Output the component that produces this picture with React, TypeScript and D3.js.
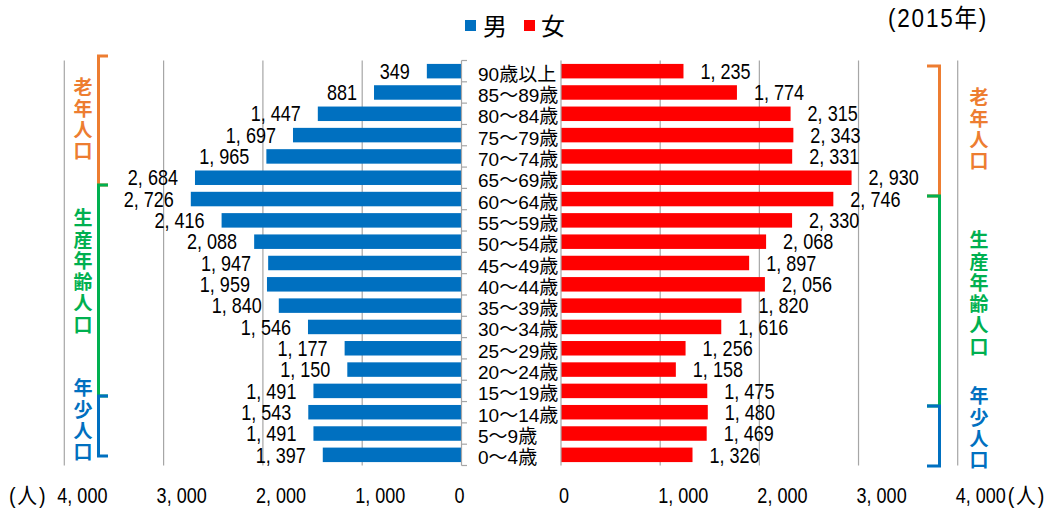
import React from "react";
import * as d3 from "d3";

// Age groups, top row first
const ageGroups = [
  "90歳以上", "85〜89歳", "80〜84歳", "75〜79歳", "70〜74歳", "65〜69歳",
  "60〜64歳", "55〜59歳", "50〜54歳", "45〜49歳", "40〜44歳", "35〜39歳",
  "30〜34歳", "25〜29歳", "20〜24歳", "15〜19歳", "10〜14歳", "5〜9歳", "0〜4歳",
];
const maleValues = [
  349, 881, 1447, 1697, 1965, 2684, 2726, 2416, 2088, 1947, 1959, 1840,
  1546, 1177, 1150, 1491, 1543, 1491, 1397,
];
const femaleValues = [
  1235, 1774, 2315, 2343, 2331, 2930, 2746, 2330, 2068, 1897, 2056, 1820,
  1616, 1256, 1158, 1475, 1480, 1469, 1326,
];
const axisTicks = [0, 1000, 2000, 3000, 4000];
const seriesNames = ["男", "女"];
const yearLabel = "(2015年)";
const unitLabel = "(人)";
const groupNames = ["老年人口", "生産年齢人口", "年少人口"];

const W = 1054;
const H = 508;
const MALE = "#0070C0";
const FEMALE = "#FF0000";
const GROUP_COLORS = ["#ED7D31", "#00B050", "#0070C0"];
const GRID = "#A6A6A6";

const LABEL_FONT = "'Liberation Sans', 'Noto Sans CJK JP', sans-serif";
const CJK_FONT = "'Noto Sans CJK JP', sans-serif";

const fmt = (v: number) => d3.format(",")(v).replace(",", ", ");

// Horizontally condensed text (tall, narrow numerals)
function NText(props: {
  x: number; y: number; anchor?: string; size: number; sx: number;
  spacing?: number; children: React.ReactNode;
}) {
  const { x, y, anchor = "start", size, sx, spacing = 0, children } = props;
  return (
    <text
      transform={`translate(${x},${y}) scale(${sx},1)`}
      textAnchor={anchor}
      fontFamily={LABEL_FONT}
      fontSize={size}
      letterSpacing={spacing}
      fill="#000"
    >
      {children}
    </text>
  );
}

export default function App() {
  const top = 60.5;
  const bottom = 465.5;
  const y = d3.scaleBand<string>().domain(ageGroups).range([top, bottom]).paddingInner(0.32).paddingOuter(0.16);
  const xL = d3.scaleLinear().domain([0, 4000]).range([461.5, 64.3]);
  const xR = d3.scaleLinear().domain([0, 4000]).range([561, 957.7]);
  const step = y.step();
  const bw = y.bandwidth();
  const cy = (a: string) => (y(a) as number) + bw / 2;
  const NUM_SX = 0.82;

  // bracket annotations: [yTop, yBottom] per group
  const leftBrackets = [[56, 185], [185, 396], [396, 456]];
  const rightBrackets = [[66, 196], [196, 406], [406, 466]];
  const leftTextStart = [87, 218, 388];
  const rightTextStart = [97, 240, 396];
  const charSize = 19;
  const charStep = 21.3;

  return (
    <svg width={W} height={H} style={{ position: "absolute", left: 0, top: 0, background: "#fff" }}>
      <rect x={0} y={0} width={W} height={H} fill="#fff" />

      {/* gridlines */}
      {axisTicks.filter((t) => t > 0).map((t) => (
        <g key={"g" + t}>
          <line x1={xL(t)} x2={xL(t)} y1={top} y2={bottom} stroke={GRID} strokeWidth={1.2} />
          <line x1={xR(t)} x2={xR(t)} y1={top} y2={bottom} stroke={GRID} strokeWidth={1.2} />
        </g>
      ))}

      {/* bars and value labels */}
      {ageGroups.map((a, i) => (
        <g key={a}>
          <rect x={xL(maleValues[i])} y={y(a)} width={xL(0) - xL(maleValues[i])} height={bw} fill={MALE} />
          <rect x={xR(0)} y={y(a)} width={xR(femaleValues[i]) - xR(0)} height={bw} fill={FEMALE} />
          <NText x={xL(maleValues[i]) - 17} y={cy(a) + 7.7} anchor="end" size={22} sx={NUM_SX}>
            {fmt(maleValues[i])}
          </NText>
          <NText x={xR(femaleValues[i]) + 17} y={cy(a) + 7.7} anchor="start" size={22} sx={NUM_SX}>
            {fmt(femaleValues[i])}
          </NText>
          <text x={478} y={cy(a) + 9.5} fontFamily={LABEL_FONT} fontSize={19} fill="#000">
            {a}
          </text>
        </g>
      ))}

      {/* center axes */}
      <line x1={xL(0)} x2={xL(0)} y1={top} y2={bottom} stroke={GRID} strokeWidth={1.2} />
      <line x1={xR(0)} x2={xR(0)} y1={top} y2={bottom} stroke={GRID} strokeWidth={1.2} />
      {d3.range(ageGroups.length + 1).map((i) => (
        <line key={"t" + i} x1={xL(0)} x2={xL(0) + 5.5} y1={top + i * step} y2={top + i * step} stroke={GRID} strokeWidth={1.2} />
      ))}

      {/* axis labels */}
      {axisTicks.map((t) => (
        <g key={"l" + t}>
          <NText x={xL(t) - 7} y={502.5} size={22} sx={NUM_SX}>{fmt(t)}</NText>
          <NText x={xR(t) - 2} y={502.5} size={22} sx={NUM_SX}>{fmt(t)}</NText>
        </g>
      ))}
      <NText x={xL(4000) - 17} y={502.5} anchor="end" size={22} sx={0.9} spacing={2}>{unitLabel}</NText>
      <NText x={xR(4000) + 50} y={502.5} anchor="start" size={22} sx={0.9} spacing={2}>{unitLabel}</NText>

      {/* legend */}
      <rect x={465} y={20} width={11} height={11} fill={MALE} />
      <text x={483} y={34.5} fontFamily={CJK_FONT} fontSize={24} fill="#000">{seriesNames[0]}</text>
      <rect x={524} y={20} width={11} height={11} fill={FEMALE} />
      <text x={541} y={34.5} fontFamily={CJK_FONT} fontSize={24} fill="#000">{seriesNames[1]}</text>

      <NText x={888} y={26.7} size={25} sx={0.9} spacing={2}>{yearLabel}</NText>

      {/* population group brackets */}
      {groupNames.map((g, gi) => {
        const c = GROUP_COLORS[gi];
        const [l0, l1] = leftBrackets[gi];
        const [r0, r1] = rightBrackets[gi];
        const vstyle = { writingMode: "vertical-rl" as const };
        return (
          <g key={g}>
            <path d={`M108,${l0} H98.5 V${l1} H108`} fill="none" stroke={c} strokeWidth={3} />
            <path d={`M927,${r0} H939.5 V${r1} H927`} fill="none" stroke={c} strokeWidth={3} />
            <text x={83} y={leftTextStart[gi] - charSize / 2} style={vstyle} fontFamily={CJK_FONT} fontWeight="bold"
              fontSize={charSize} letterSpacing={charStep - charSize} fill={c}>{g}</text>
            <text x={979} y={rightTextStart[gi] - charSize / 2} style={vstyle} fontFamily={CJK_FONT} fontWeight="bold"
              fontSize={charSize} letterSpacing={charStep - charSize} fill={c}>{g}</text>
          </g>
        );
      })}
    </svg>
  );
}
